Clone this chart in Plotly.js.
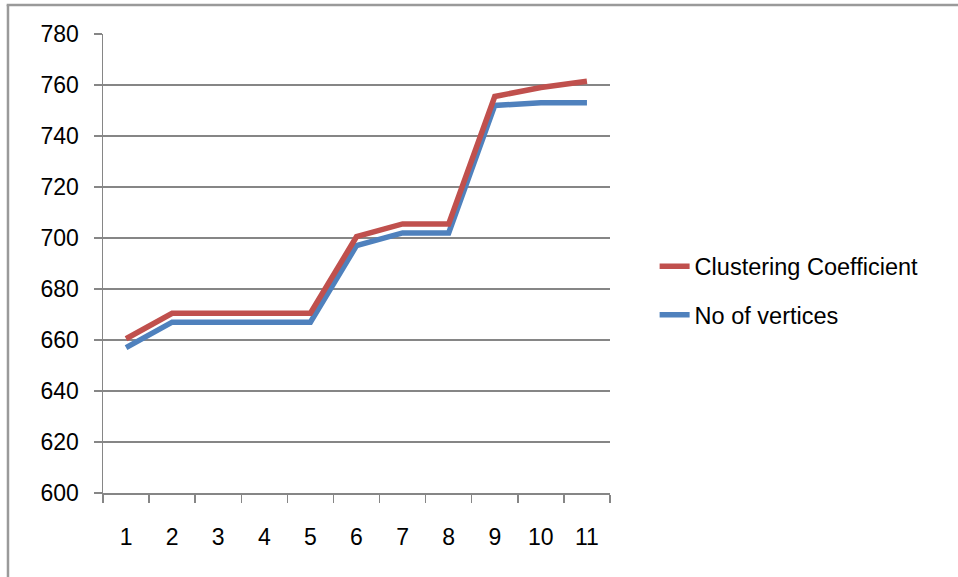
<!DOCTYPE html>
<html>
<head>
<meta charset="utf-8">
<script src="https://cdn.plot.ly/plotly-3.0.1.min.js"></script>
<style>
  html, body { margin: 0; padding: 0; background: #ffffff; }
  #chart { width: 958px; height: 577px; }
</style>
</head>
<body>
<div id="chart"></div>
<script>
// Categories along the x axis
const categories = ["1", "2", "3", "4", "5", "6", "7", "8", "9", "10", "11"];

// Series values
const clusteringCoefficient = [660.5, 670.5, 670.5, 670.5, 670.5, 700.5, 705.5, 705.5, 755.5, 759, 761.5];
const noOfVertices = [657, 667, 667, 667, 667, 697, 702, 702, 752, 753, 753];

// Y axis tick values
const yTicks = [600, 620, 640, 660, 680, 700, 720, 740, 760, 780];

const gridColor = "#868686";
const fontFamily = "Liberation Sans, Arial, sans-serif";

const traces = [
  {
    x: categories,
    y: noOfVertices,
    name: "No of vertices",
    type: "scatter",
    mode: "lines",
    line: { color: "#4F81BD", width: 5.5 },
    legendrank: 2,
    legendgroup: "b"
  },
  {
    x: categories,
    y: clusteringCoefficient,
    name: "Clustering Coefficient",
    type: "scatter",
    mode: "lines",
    line: { color: "#C0504D", width: 5.5 },
    legendrank: 1,
    legendgroup: "a"
  }
];

const layout = {
  width: 958,
  height: 577,
  margin: { l: 103, r: 348, t: 34, b: 84 },
  paper_bgcolor: "#ffffff",
  plot_bgcolor: "#ffffff",
  font: { family: fontFamily, size: 23, color: "#000000" },
  showlegend: true,
  legend: {
    x: 1.088,
    xanchor: "left",
    y: 0.44,
    yanchor: "middle",
    font: { family: fontFamily, size: 23.5, color: "#000000" },
    tracegroupgap: 15,
    bgcolor: "rgba(0,0,0,0)"
  },
  xaxis: {
    type: "category",
    range: [-0.5, 10.5],
    tickson: "boundaries",
    ticks: "outside",
    ticklen: 8,
    tickcolor: gridColor,
    tickwidth: 1.5,
    showline: true,
    linecolor: gridColor,
    linewidth: 1.5,
    showgrid: false,
    zeroline: false,
    ticklabelstandoff: 23,
    tickfont: { family: fontFamily, size: 23 },
    fixedrange: true
  },
  yaxis: {
    range: [600, 780],
    tickvals: yTicks,
    ticktext: yTicks.map(String),
    ticks: "outside",
    ticklen: 8,
    tickcolor: gridColor,
    tickwidth: 1.5,
    showline: true,
    linecolor: gridColor,
    linewidth: 1.5,
    showgrid: true,
    gridcolor: gridColor,
    gridwidth: 1.5,
    zeroline: false,
    ticklabelstandoff: 10,
    tickfont: { family: fontFamily, size: 23 },
    fixedrange: true
  },
  shapes: [
    // outer frame: top edge
    {
      type: "line", xref: "paper", yref: "paper",
      x0: -0.19, x1: 1.7, y0: 1.0632, y1: 1.0632,
      line: { color: "#9a9a9a", width: 2.5 }
    },
    // outer frame: left edge
    {
      type: "line", xref: "paper", yref: "paper",
      x0: -0.1874, x1: -0.1874, y0: 1.0632, y1: -0.2,
      line: { color: "#9a9a9a", width: 2.5 }
    }
  ]
};

Plotly.newPlot("chart", traces, layout, { displayModeBar: false, staticPlot: true });
</script>
</body>
</html>
